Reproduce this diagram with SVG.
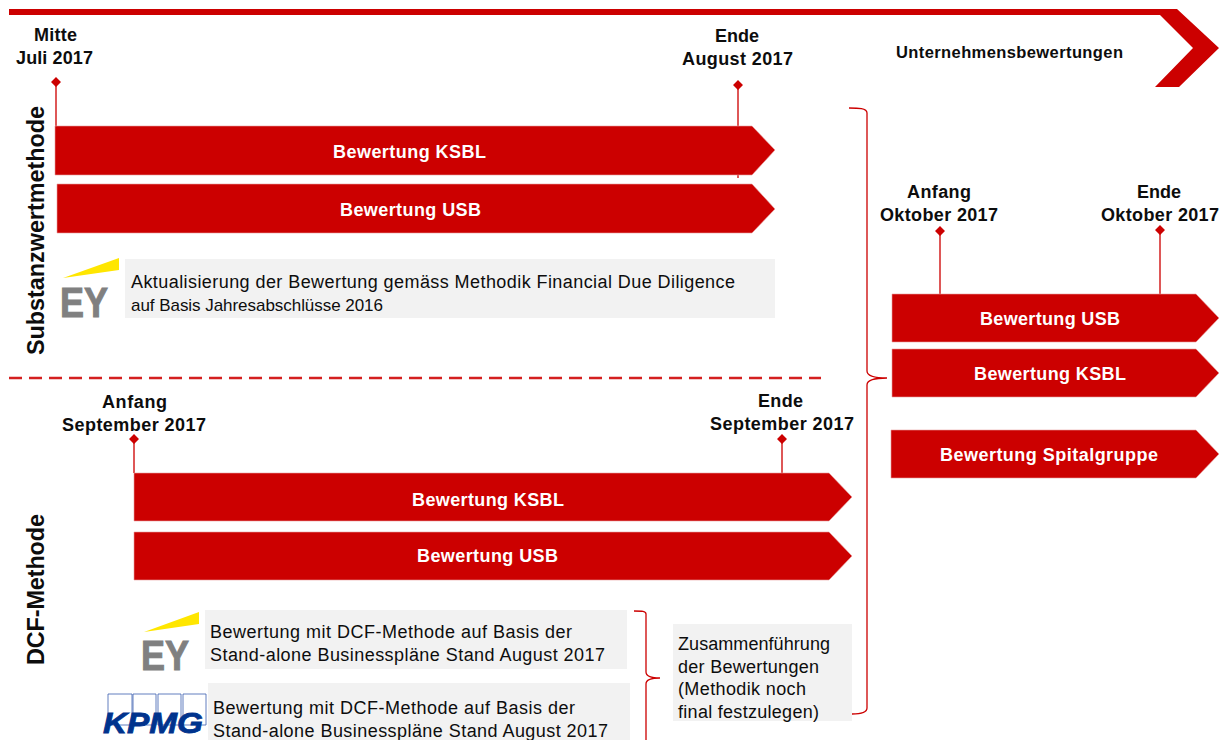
<svg xmlns="http://www.w3.org/2000/svg" width="1226" height="740" viewBox="0 0 1226 740">
<defs><style>
text{font-family:"Liberation Sans",Arial,sans-serif;fill:#0d0d0d}
.d{font-size:18px;font-weight:700;text-anchor:middle}
.a{fill:#cc0000;stroke:#e8a0a0;stroke-width:.6}
.w{font-size:18px;font-weight:700;text-anchor:middle;fill:#fff}
.b{fill:#f2f2f2}
.t{font-size:18px}
.v{font-size:23.4px;font-weight:700;text-anchor:middle}
.l{stroke:#d42020;stroke-width:1.5;fill:none}
.m{fill:#cc0000}
.y{fill:#ffe600}
.e{font-size:42px;font-weight:700;fill:#808080;stroke:#808080;stroke-width:1;text-anchor:middle}
</style></defs>
<g id="top-arrow"><path class="m" d="M9 9H1177L1219 48L1179 87H1155L1193 48L1160 15H9Z"/><text x="1009.500" y="58" font-size="16.500" font-weight="700" text-anchor="middle" textLength="227">Unternehmensbewertungen</text></g>
<g id="connectors">
<path class="l" d="M56 82V126M738 85V178M940 231V294M1160 230V294M134 439V473M782 439V473"/>
<path d="M9 378H821" stroke="#d42020" stroke-width="2.500" stroke-dasharray="13 7" fill="none"/>
<path d="M849 108C858 108 867 108 867 113V371C867 376 875 378 887 378C875 378 867 380 867 385V708C867 713 860 714 852 714" fill="none" stroke="#cc0000" stroke-width="1.300"/>
<path d="M634 611C642 611 646 611 646 614V672C646 676 652 678 660 678C652 678 646 680 646 684V740" fill="none" stroke="#cc0000" stroke-width="1.300"/>
<path class="m" d="M56 77l5 5l-5 5l-5-5ZM738 80l5 5l-5 5l-5-5ZM940 226l5 5l-5 5l-5-5ZM1160 225l5 5l-5 5l-5-5ZM134 434l5 5l-5 5l-5-5ZM782 434l5 5l-5 5l-5-5Z"/>
</g>
<g id="label-mitte"><text class="d" x="55.500" y="41" textLength="43">Mitte</text><text class="d" x="54.500" y="64" textLength="77">Juli 2017</text></g>
<g id="label-ende-aug"><text class="d" x="737" y="42" textLength="44">Ende</text><text class="d" x="737.500" y="65" textLength="111">August  2017</text></g>
<g id="label-anf-okt"><text class="d" x="939" y="198" textLength="64">Anfang</text><text class="d" x="939" y="221" textLength="118">Oktober  2017</text></g>
<g id="label-ende-okt"><text class="d" x="1159" y="198" textLength="44">Ende</text><text class="d" x="1160" y="221" textLength="118">Oktober  2017</text></g>
<g id="label-anf-sep"><text class="d" x="134.500" y="408" textLength="65">Anfang</text><text class="d" x="134" y="431" textLength="144">September 2017</text></g>
<g id="label-ende-sep"><text class="d" x="780.500" y="407" textLength="45">Ende</text><text class="d" x="782" y="430" textLength="144">September 2017</text></g>
<g id="sub-label"><text class="v" transform="translate(44 230.500) rotate(-90)" textLength="249">Substanzwertmethode</text></g>
<g id="dcf-label"><text class="v" transform="translate(44 589.500) rotate(-90)" textLength="151">DCF-Methode</text></g>
<g id="a1"><path class="a" d="M55 126H752L775 150L752 175H55Z"/><text class="w" x="409.500" y="158" textLength="153">Bewertung KSBL</text></g>
<g id="a2"><path class="a" d="M57 184H752L775 209L752 233H57Z"/><text class="w" x="410.500" y="216" textLength="141">Bewertung USB</text></g>
<g id="a3"><path class="a" d="M892 294H1196L1219 318L1196 342H892Z"/><text class="w" x="1050" y="325" textLength="140">Bewertung USB</text></g>
<g id="a4"><path class="a" d="M892 349H1196L1219 373L1196 397H892Z"/><text class="w" x="1050" y="380" textLength="152">Bewertung KSBL</text></g>
<g id="a5"><path class="a" d="M891 430H1196L1219 454L1196 478H891Z"/><text class="w" x="1049" y="461" textLength="218">Bewertung Spitalgruppe</text></g>
<g id="a6"><path class="a" d="M134 473H829L852 497L829 521H134Z"/><text class="w" x="488" y="506" textLength="152">Bewertung KSBL</text></g>
<g id="a7"><path class="a" d="M134 532H829L852 556L829 580H134Z"/><text class="w" x="487.500" y="562" textLength="141">Bewertung USB</text></g>
<g id="ey1"><path class="y" d="M63 278L119 258V270Z"/><text class="e" x="84" y="317" textLength="48" lengthAdjust="spacingAndGlyphs">EY</text></g>
<g id="note1"><rect class="b" x="125" y="259" width="650" height="59"/><text class="t" x="131" y="288" textLength="604">Aktualisierung der Bewertung gemäss Methodik Financial Due Diligence</text><text class="t" x="131" y="311" textLength="252" style="font-size:17px">auf Basis Jahresabschlüsse 2016</text></g>
<g id="ey2"><path class="y" d="M144 632L199 612V624Z"/><text class="e" x="165" y="670" textLength="48" lengthAdjust="spacingAndGlyphs">EY</text></g>
<g id="note2"><rect class="b" x="205" y="610" width="422" height="59"/><text class="t" x="210" y="638" textLength="362">Bewertung  mit DCF-Methode  auf Basis der</text><text class="t" x="210" y="661" textLength="395">Stand-alone  Businesspläne Stand August 2017</text></g>
<g id="kpmg"><path d="M108 694h24v31h-24ZM133 694h23v31h-23ZM158 694h23v31h-23ZM183 694h23v31h-23Z" fill="none" stroke="#3a5dae" stroke-width=".8"/><text x="103" y="733" font-size="29" font-weight="700" font-style="italic" textLength="100" lengthAdjust="spacingAndGlyphs" style="fill:#00338d;stroke:#00338d;stroke-width:.8">KPMG</text></g>
<g id="note3"><rect class="b" x="208" y="683" width="422" height="57"/><text class="t" x="213" y="714" textLength="362">Bewertung  mit DCF-Methode  auf Basis der</text><text class="t" x="213" y="737" textLength="395">Stand-alone  Businesspläne Stand August 2017</text></g>
<g id="note4"><rect class="b" x="673" y="624" width="179" height="97"/><text class="t" x="678" y="650" textLength="152">Zusammenführung</text><text class="t" x="678" y="673" textLength="141">der Bewertungen</text><text class="t" x="678" y="695" textLength="128">(Methodik  noch</text><text class="t" x="678" y="718" textLength="141">final  festzulegen)</text></g>
</svg>
